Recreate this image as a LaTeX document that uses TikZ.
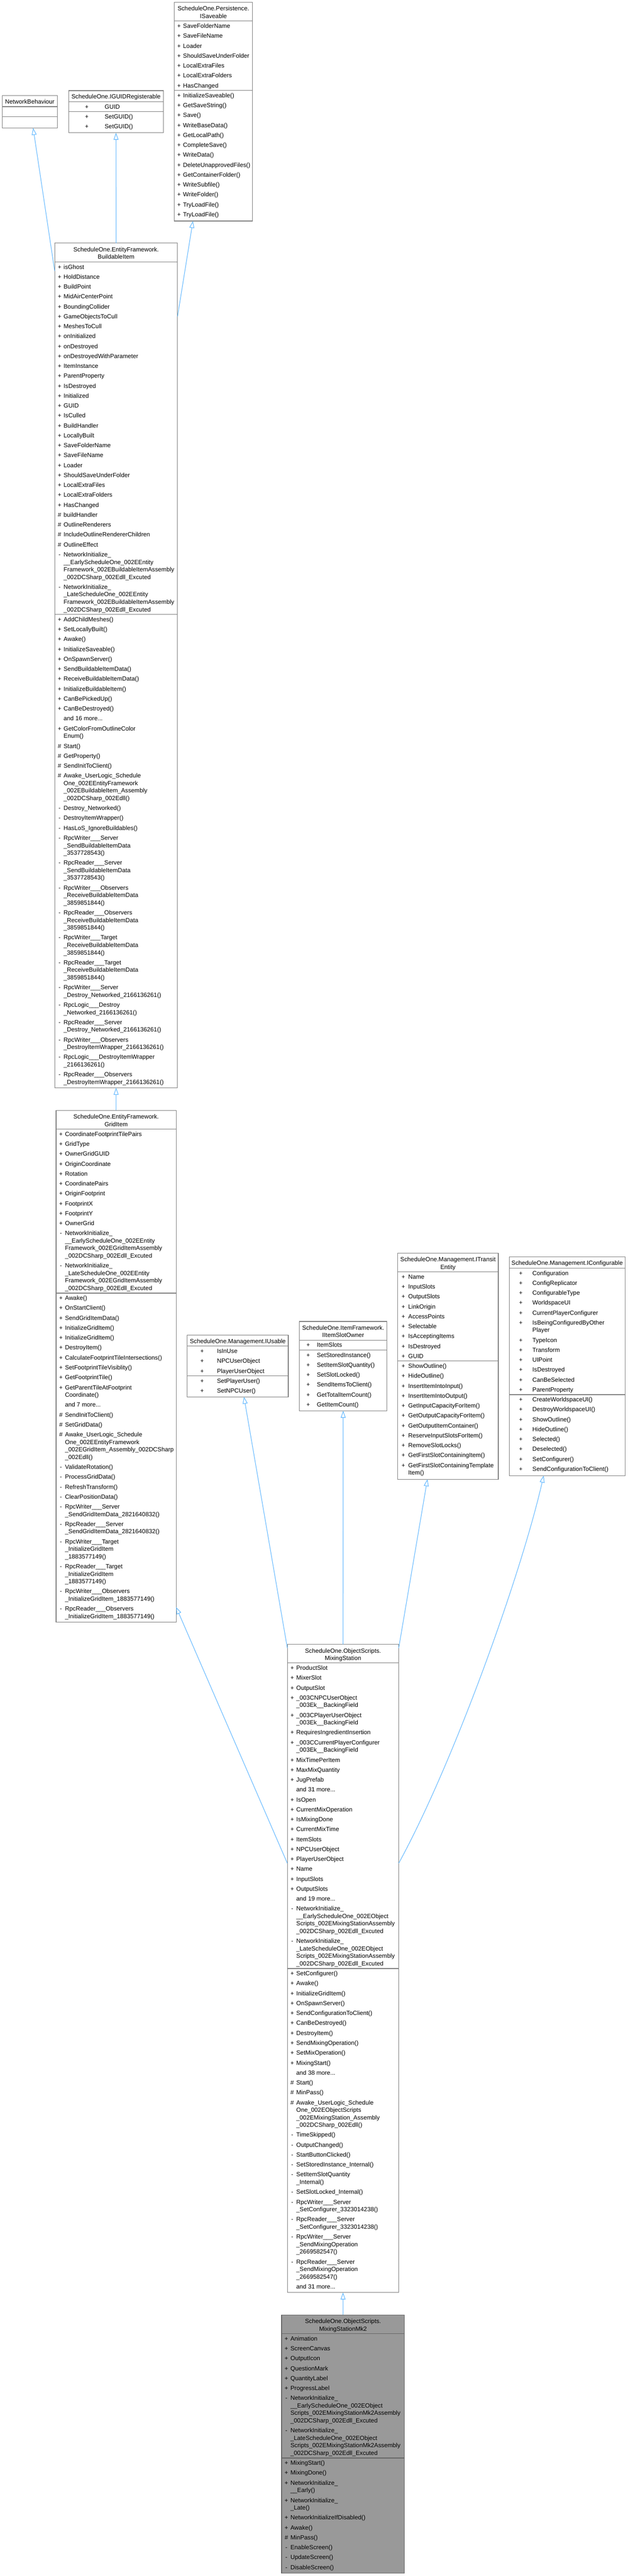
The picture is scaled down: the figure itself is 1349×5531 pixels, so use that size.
\documentclass[tikz,border=0pt]{standalone}
\usepackage{fontspec}
\setmainfont{Liberation Sans}
\usetikzlibrary{arrows.meta}
\definecolor{bordc}{HTML}{7F7F7F}
\definecolor{edgec}{HTML}{63B8FF}
\definecolor{hlfill}{HTML}{999999}
\definecolor{hlbord}{HTML}{666666}
\newlength\mkwidth
\newcommand\mk[1]{\makebox[\mkwidth][l]{\makebox[7.6pt]{#1}}}
\newcommand\items[2]{{\setlength\mkwidth{#1}\begin{tabular}[t]{@{}l@{}l@{}}#2\end{tabular}}}
\newcommand\hd[1]{\begin{tabular}[t]{@{}c@{}}#1\end{tabular}}
\newcommand\nx{\\[5.2pt]}
\newcommand\Pu[1]{\mk{+}&#1\nx}
\newcommand\Pt[1]{\mk{\#}&#1\nx}
\newcommand\Pv[1]{\mk{-}&#1\nx}
\newcommand\Mo[1]{&#1\nx}
\begin{document}
\begin{tikzpicture}[x=1pt,y=-1pt,font=\fontsize{13pt}{16.1pt}\selectfont,
  cbox/.style={draw=bordc,line width=1.3pt,fill=white,inner sep=0pt,outer sep=0pt,anchor=north west},
  hlbox/.style={cbox,draw=hlbord,fill=hlfill},
  sepl/.style={draw=bordc,line width=1.3pt},
  hlsep/.style={draw=hlbord,line width=1.3pt},
  txt/.style={inner sep=0pt,outer sep=0pt},
  inh/.style={draw=edgec,line width=1.2pt,-{Triangle[open,length=15pt,width=10.5pt,line width=1.2pt]}}]
\useasboundingbox (0,0) rectangle (1349,5531);

% ---------- NetworkBehaviour ----------
\node[cbox,minimum width=118pt,minimum height=69.6pt] (nb) at (5,205.2) {};
\draw[sepl] ([yshift=-23.8pt]nb.north west) -- ([yshift=-23.8pt]nb.north east);
\draw[sepl] ([yshift=-45.8pt]nb.north west) -- ([yshift=-45.8pt]nb.north east);
\node[txt,anchor=base] (nb-h) at (64,222.7) {\hd{NetworkBehaviour}};

% ---------- IGUIDRegisterable ----------
\node[cbox,minimum width=203.8pt,minimum height=90.5pt] (guid) at (147.4,194.6) {};
\draw[sepl] ([yshift=-23.7pt]guid.north west) -- ([yshift=-23.7pt]guid.north east);
\draw[sepl] ([yshift=-45pt]guid.north west) -- ([yshift=-45pt]guid.north east);
\node[txt,anchor=base] (guid-h) at (249.3,212.1) {\hd{ScheduleOne.IGUIDRegisterable}};
\node[txt,anchor=base west] (guid-a) at (182.6,233.5) {\items{42.4pt}{\Pu{GUID}}};
\node[txt,anchor=base west] (guid-m) at (182.6,254.8) {\items{42.4pt}{\Pu{SetGUID()}\Pu{SetGUID()}}};

% ---------- ISaveable ----------
\node[cbox,minimum width=168.8pt,minimum height=469.7pt] (sav) at (374.2,4.8) {};
\draw[sepl] ([yshift=-40.3pt]sav.north west) -- ([yshift=-40.3pt]sav.north east);
\draw[sepl] ([yshift=-189.4pt]sav.north west) -- ([yshift=-189.4pt]sav.north east);
\node[txt,anchor=base] (sav-h) at (458.6,22.9) {\hd{ScheduleOne.Persistence.\\ISaveable}};
\node[txt,anchor=base west] (sav-a) at (380.9,60.3) {\items{12.6pt}{%
\Pu{SaveFolderName}\Pu{SaveFileName}\Pu{Loader}\Pu{ShouldSaveUnderFolder}%
\Pu{LocalExtraFiles}\Pu{LocalExtraFolders}\Pu{HasChanged}}};
\node[txt,anchor=base west] (sav-m) at (380.9,209.4) {\items{12.6pt}{%
\Pu{InitializeSaveable()}\Pu{GetSaveString()}\Pu{Save()}\Pu{WriteBaseData()}%
\Pu{GetLocalPath()}\Pu{CompleteSave()}\Pu{WriteData()}\Pu{DeleteUnapprovedFiles()}%
\Pu{GetContainerFolder()}\Pu{WriteSubfile()}\Pu{WriteFolder()}\Pu{TryLoadFile()}\Pu{TryLoadFile()}}};

% ---------- BuildableItem ----------
\node[cbox,minimum width=264pt,minimum height=1813.5pt] (bi) at (117.5,522) {};
\draw[sepl] ([yshift=-40.3pt]bi.north west) -- ([yshift=-40.3pt]bi.north east);
\draw[sepl] ([yshift=-797.3pt]bi.north west) -- ([yshift=-797.3pt]bi.north east);
\node[txt,anchor=base] (bi-h) at (249.5,540.1) {\hd{ScheduleOne.EntityFramework.\\BuildableItem}};
\node[txt,anchor=base west] (bi-a) at (124.2,577.5) {\items{12.6pt}{%
\Pu{isGhost}\Pu{HoldDistance}\Pu{BuildPoint}\Pu{MidAirCenterPoint}\Pu{BoundingCollider}%
\Pu{GameObjectsToCull}\Pu{MeshesToCull}\Pu{onInitialized}\Pu{onDestroyed}%
\Pu{onDestroyedWithParameter}\Pu{ItemInstance}\Pu{ParentProperty}\Pu{IsDestroyed}%
\Pu{Initialized}\Pu{GUID}\Pu{IsCulled}\Pu{BuildHandler}\Pu{LocallyBuilt}%
\Pu{SaveFolderName}\Pu{SaveFileName}\Pu{Loader}\Pu{ShouldSaveUnderFolder}%
\Pu{LocalExtraFiles}\Pu{LocalExtraFolders}\Pu{HasChanged}%
\Pt{buildHandler}\Pt{OutlineRenderers}\Pt{IncludeOutlineRendererChildren}\Pt{OutlineEffect}%
\Pv{NetworkInitialize\_\\&\_\_EarlyScheduleOne\_002EEntity\\&Framework\_002EBuildableItemAssembly\\&\_002DCSharp\_002Edll\_Excuted}%
\Pv{NetworkInitialize\_\\&\_LateScheduleOne\_002EEntity\\&Framework\_002EBuildableItemAssembly\\&\_002DCSharp\_002Edll\_Excuted}}};
\node[txt,anchor=base west] (bi-m) at (124.2,1334.5) {\items{12.6pt}{%
\Pu{AddChildMeshes()}\Pu{SetLocallyBuilt()}\Pu{Awake()}\Pu{InitializeSaveable()}%
\Pu{OnSpawnServer()}\Pu{SendBuildableItemData()}\Pu{ReceiveBuildableItemData()}%
\Pu{InitializeBuildableItem()}\Pu{CanBePickedUp()}\Pu{CanBeDestroyed()}%
\Mo{and 16 more...}%
\Pu{GetColorFromOutlineColor\\&Enum()}%
\Pt{Start()}\Pt{GetProperty()}\Pt{SendInitToClient()}%
\Pt{Awake\_UserLogic\_Schedule\\&One\_002EEntityFramework\\&\_002EBuildableItem\_Assembly\\&\_002DCSharp\_002Edll()}%
\Pv{Destroy\_Networked()}\Pv{DestroyItemWrapper()}\Pv{HasLoS\_IgnoreBuildables()}%
\Pv{RpcWriter\_\_\_Server\\&\_SendBuildableItemData\\&\_3537728543()}%
\Pv{RpcReader\_\_\_Server\\&\_SendBuildableItemData\\&\_3537728543()}%
\Pv{RpcWriter\_\_\_Observers\\&\_ReceiveBuildableItemData\\&\_3859851844()}%
\Pv{RpcReader\_\_\_Observers\\&\_ReceiveBuildableItemData\\&\_3859851844()}%
\Pv{RpcWriter\_\_\_Target\\&\_ReceiveBuildableItemData\\&\_3859851844()}%
\Pv{RpcReader\_\_\_Target\\&\_ReceiveBuildableItemData\\&\_3859851844()}%
\Pv{RpcWriter\_\_\_Server\\&\_Destroy\_Networked\_2166136261()}%
\Pv{RpcLogic\_\_\_Destroy\\&\_Networked\_2166136261()}%
\Pv{RpcReader\_\_\_Server\\&\_Destroy\_Networked\_2166136261()}%
\Pv{RpcWriter\_\_\_Observers\\&\_DestroyItemWrapper\_2166136261()}%
\Pv{RpcLogic\_\_\_DestroyItemWrapper\\&\_2166136261()}%
\Pv{RpcReader\_\_\_Observers\\&\_DestroyItemWrapper\_2166136261()}}};

% ---------- GridItem ----------
\node[cbox,minimum width=258pt,minimum height=1099pt] (gi) at (120.5,2384) {};
\draw[sepl] ([yshift=-40.3pt]gi.north west) -- ([yshift=-40.3pt]gi.north east);
\draw[sepl] ([yshift=-392.5pt]gi.north west) -- ([yshift=-392.5pt]gi.north east);
\node[txt,anchor=base] (gi-h) at (249.5,2402.1) {\hd{ScheduleOne.EntityFramework.\\GridItem}};
\node[txt,anchor=base west] (gi-a) at (127.2,2439.5) {\items{12.6pt}{%
\Pu{CoordinateFootprintTilePairs}\Pu{GridType}\Pu{OwnerGridGUID}\Pu{OriginCoordinate}%
\Pu{Rotation}\Pu{CoordinatePairs}\Pu{OriginFootprint}\Pu{FootprintX}\Pu{FootprintY}\Pu{OwnerGrid}%
\Pv{NetworkInitialize\_\\&\_\_EarlyScheduleOne\_002EEntity\\&Framework\_002EGridItemAssembly\\&\_002DCSharp\_002Edll\_Excuted}%
\Pv{NetworkInitialize\_\\&\_LateScheduleOne\_002EEntity\\&Framework\_002EGridItemAssembly\\&\_002DCSharp\_002Edll\_Excuted}}};
\node[txt,anchor=base west] (gi-m) at (127.2,2791.7) {\items{12.6pt}{%
\Pu{Awake()}\Pu{OnStartClient()}\Pu{SendGridItemData()}\Pu{InitializeGridItem()}%
\Pu{InitializeGridItem()}\Pu{DestroyItem()}\Pu{CalculateFootprintTileIntersections()}%
\Pu{SetFootprintTileVisiblity()}\Pu{GetFootprintTile()}%
\Pu{GetParentTileAtFootprint\\&Coordinate()}%
\Mo{and 7 more...}%
\Pt{SendInitToClient()}\Pt{SetGridData()}%
\Pt{Awake\_UserLogic\_Schedule\\&One\_002EEntityFramework\\&\_002EGridItem\_Assembly\_002DCSharp\\&\_002Edll()}%
\Pv{ValidateRotation()}\Pv{ProcessGridData()}\Pv{RefreshTransform()}\Pv{ClearPositionData()}%
\Pv{RpcWriter\_\_\_Server\\&\_SendGridItemData\_2821640832()}%
\Pv{RpcReader\_\_\_Server\\&\_SendGridItemData\_2821640832()}%
\Pv{RpcWriter\_\_\_Target\\&\_InitializeGridItem\\&\_1883577149()}%
\Pv{RpcReader\_\_\_Target\\&\_InitializeGridItem\\&\_1883577149()}%
\Pv{RpcWriter\_\_\_Observers\\&\_InitializeGridItem\_1883577149()}%
\Pv{RpcReader\_\_\_Observers\\&\_InitializeGridItem\_1883577149()}}};

% ---------- IUsable ----------
\node[cbox,minimum width=216.9pt,minimum height=132.3pt] (us) at (402.5,2866.7) {};
\draw[sepl] ([yshift=-23.6pt]us.north west) -- ([yshift=-23.6pt]us.north east);
\draw[sepl] ([yshift=-87.5pt]us.north west) -- ([yshift=-87.5pt]us.north east);
\node[txt,anchor=base] (us-h) at (511,2884.2) {\hd{ScheduleOne.Management.IUsable}};
\node[txt,anchor=base west] (us-a) at (430.5,2905.5) {\items{35.8pt}{\Pu{IsInUse}\Pu{NPCUserObject}\Pu{PlayerUserObject}}};
\node[txt,anchor=base west] (us-m) at (430.5,2969.4) {\items{35.8pt}{\Pu{SetPlayerUser()}\Pu{SetNPCUser()}}};

% ---------- IItemSlotOwner ----------
\node[cbox,minimum width=187.6pt,minimum height=191.7pt] (iso) at (643.7,2837.3) {};
\draw[sepl] ([yshift=-40pt]iso.north west) -- ([yshift=-40pt]iso.north east);
\draw[sepl] ([yshift=-61.3pt]iso.north west) -- ([yshift=-61.3pt]iso.north east);
\node[txt,anchor=base] (iso-h) at (737.5,2855.4) {\hd{ScheduleOne.ItemFramework.\\IItemSlotOwner}};
\node[txt,anchor=base west] (iso-a) at (658.5,2892.5) {\items{22.5pt}{\Pu{ItemSlots}}};
\node[txt,anchor=base west] (iso-m) at (658.5,2913.8) {\items{22.5pt}{%
\Pu{SetStoredInstance()}\Pu{SetItemSlotQuantity()}\Pu{SetSlotLocked()}%
\Pu{SendItemsToClient()}\Pu{GetTotalItemCount()}\Pu{GetItemCount()}}};

% ---------- ITransitEntity ----------
\node[cbox,minimum width=216pt,minimum height=485.3pt] (ite) at (854.7,2690.7) {};
\draw[sepl] ([yshift=-40pt]ite.north west) -- ([yshift=-40pt]ite.north east);
\draw[sepl] ([yshift=-231.7pt]ite.north west) -- ([yshift=-231.7pt]ite.north east);
\node[txt,anchor=base] (ite-h) at (962.7,2708.8) {\hd{ScheduleOne.Management.ITransit\\Entity}};
\node[txt,anchor=base west] (ite-a) at (862.9,2745.9) {\items{14.5pt}{%
\Pu{Name}\Pu{InputSlots}\Pu{OutputSlots}\Pu{LinkOrigin}\Pu{AccessPoints}%
\Pu{Selectable}\Pu{IsAcceptingItems}\Pu{IsDestroyed}\Pu{GUID}}};
\node[txt,anchor=base west] (ite-m) at (862.9,2937.6) {\items{14.5pt}{%
\Pu{ShowOutline()}\Pu{HideOutline()}\Pu{InsertItemIntoInput()}\Pu{InsertItemIntoOutput()}%
\Pu{GetInputCapacityForItem()}\Pu{GetOutputCapacityForItem()}\Pu{GetOutputItemContainer()}%
\Pu{ReserveInputSlotsForItem()}\Pu{RemoveSlotLocks()}\Pu{GetFirstSlotContainingItem()}%
\Pu{GetFirstSlotContainingTemplate\\&Item()}}};

% ---------- IConfigurable ----------
\node[cbox,minimum width=249pt,minimum height=469.6pt] (cfg) at (1094.3,2698.7) {};
\draw[sepl] ([yshift=-24pt]cfg.north west) -- ([yshift=-24pt]cfg.north east);
\draw[sepl] ([yshift=-295.7pt]cfg.north west) -- ([yshift=-295.7pt]cfg.north east);
\node[txt,anchor=base] (cfg-h) at (1218.8,2716.2) {\hd{ScheduleOne.Management.IConfigurable}};
\node[txt,anchor=base west] (cfg-a) at (1115.5,2737.9) {\items{28.8pt}{%
\Pu{Configuration}\Pu{ConfigReplicator}\Pu{ConfigurableType}\Pu{WorldspaceUI}%
\Pu{CurrentPlayerConfigurer}\Pu{IsBeingConfiguredByOther\\&Player}\Pu{TypeIcon}%
\Pu{Transform}\Pu{UIPoint}\Pu{IsDestroyed}\Pu{CanBeSelected}\Pu{ParentProperty}}};
\node[txt,anchor=base west] (cfg-m) at (1115.5,3009.6) {\items{28.8pt}{%
\Pu{CreateWorldspaceUI()}\Pu{DestroyWorldspaceUI()}\Pu{ShowOutline()}\Pu{HideOutline()}%
\Pu{Selected()}\Pu{Deselected()}\Pu{SetConfigurer()}\Pu{SendConfigurationToClient()}}};

% ---------- MixingStation ----------
\node[cbox,minimum width=239.3pt,minimum height=1391.6pt] (ms) at (617.5,3530.6) {};
\draw[sepl] ([yshift=-40pt]ms.north west) -- ([yshift=-40pt]ms.north east);
\draw[sepl] ([yshift=-696.1pt]ms.north west) -- ([yshift=-696.1pt]ms.north east);
\node[txt,anchor=base] (ms-h) at (737.15,3548.7) {\hd{ScheduleOne.ObjectScripts.\\MixingStation}};
\node[txt,anchor=base west] (ms-a) at (624.2,3585.8) {\items{12.6pt}{%
\Pu{ProductSlot}\Pu{MixerSlot}\Pu{OutputSlot}%
\Pu{\_003CNPCUserObject\\&\_003Ek\_\_BackingField}%
\Pu{\_003CPlayerUserObject\\&\_003Ek\_\_BackingField}%
\Pu{RequiresIngredientInsertion}%
\Pu{\_003CCurrentPlayerConfigurer\\&\_003Ek\_\_BackingField}%
\Pu{MixTimePerItem}\Pu{MaxMixQuantity}\Pu{JugPrefab}%
\Mo{and 31 more...}%
\Pu{IsOpen}\Pu{CurrentMixOperation}\Pu{IsMixingDone}\Pu{CurrentMixTime}\Pu{ItemSlots}%
\Pu{NPCUserObject}\Pu{PlayerUserObject}\Pu{Name}\Pu{InputSlots}\Pu{OutputSlots}%
\Mo{and 19 more...}%
\Pv{NetworkInitialize\_\\&\_\_EarlyScheduleOne\_002EObject\\&Scripts\_002EMixingStationAssembly\\&\_002DCSharp\_002Edll\_Excuted}%
\Pv{NetworkInitialize\_\\&\_LateScheduleOne\_002EObject\\&Scripts\_002EMixingStationAssembly\\&\_002DCSharp\_002Edll\_Excuted}}};
\node[txt,anchor=base west] (ms-m) at (624.2,4241.9) {\items{12.6pt}{%
\Pu{SetConfigurer()}\Pu{Awake()}\Pu{InitializeGridItem()}\Pu{OnSpawnServer()}%
\Pu{SendConfigurationToClient()}\Pu{CanBeDestroyed()}\Pu{DestroyItem()}%
\Pu{SendMixingOperation()}\Pu{SetMixOperation()}\Pu{MixingStart()}%
\Mo{and 38 more...}%
\Pt{Start()}\Pt{MinPass()}%
\Pt{Awake\_UserLogic\_Schedule\\&One\_002EObjectScripts\\&\_002EMixingStation\_Assembly\\&\_002DCSharp\_002Edll()}%
\Pv{TimeSkipped()}\Pv{OutputChanged()}\Pv{StartButtonClicked()}\Pv{SetStoredInstance\_Internal()}%
\Pv{SetItemSlotQuantity\\&\_Internal()}\Pv{SetSlotLocked\_Internal()}%
\Pv{RpcWriter\_\_\_Server\\&\_SetConfigurer\_3323014238()}%
\Pv{RpcReader\_\_\_Server\\&\_SetConfigurer\_3323014238()}%
\Pv{RpcWriter\_\_\_Server\\&\_SendMixingOperation\\&\_2669582547()}%
\Pv{RpcReader\_\_\_Server\\&\_SendMixingOperation\\&\_2669582547()}%
\Mo{and 31 more...}}};

% ---------- MixingStationMk2 ----------
\node[hlbox,minimum width=264.3pt,minimum height=554.4pt] (mk2) at (605,4970.6) {};
\draw[hlsep] ([yshift=-40pt]mk2.north west) -- ([yshift=-40pt]mk2.north east);
\draw[hlsep] ([yshift=-307pt]mk2.north west) -- ([yshift=-307pt]mk2.north east);
\node[txt,anchor=base] (mk2-h) at (737.15,4988.7) {\hd{ScheduleOne.ObjectScripts.\\MixingStationMk2}};
\node[txt,anchor=base west] (mk2-a) at (611.7,5025.8) {\items{12.6pt}{%
\Pu{Animation}\Pu{ScreenCanvas}\Pu{OutputIcon}\Pu{QuestionMark}\Pu{QuantityLabel}\Pu{ProgressLabel}%
\Pv{NetworkInitialize\_\\&\_\_EarlyScheduleOne\_002EObject\\&Scripts\_002EMixingStationMk2Assembly\\&\_002DCSharp\_002Edll\_Excuted}%
\Pv{NetworkInitialize\_\\&\_LateScheduleOne\_002EObject\\&Scripts\_002EMixingStationMk2Assembly\\&\_002DCSharp\_002Edll\_Excuted}}};
\node[txt,anchor=base west] (mk2-m) at (611.7,5292.8) {\items{12.6pt}{%
\Pu{MixingStart()}\Pu{MixingDone()}\Pu{NetworkInitialize\_\\&\_\_Early()}%
\Pu{NetworkInitialize\_\\&\_Late()}\Pu{NetworkInitializeIfDisabled()}\Pu{Awake()}%
\Pt{MinPass()}\Pv{EnableScreen()}\Pv{UpdateScreen()}\Pv{DisableScreen()}}};

% ---------- inheritance connectors ----------
\draw[inh] ([yshift=-60pt]bi.north west) -- ([xshift=7.2pt]nb.south);
\draw[inh] (bi.north) -- (guid.south);
\draw[inh] ([yshift=-157.6pt]bi.north east) -- ([xshift=-44pt]sav.south);
\draw[inh] (gi.north) -- (bi.south);
\draw[inh] ([yshift=-470pt]ms.north west) -- ([yshift=32.4pt]gi.south east);
\draw[inh] ([yshift=-8pt]ms.north west) -- ([xshift=13.3pt]us.south);
\draw[inh] (ms.north) -- (iso.south);
\draw[inh] ([yshift=-8pt]ms.north east) -- ([xshift=-44.2pt]ite.south);
\draw[inh] ([yshift=-470pt]ms.north east) .. controls (975,3785) and (1120,3380) .. ([xshift=-50.5pt]cfg.south);
\draw[inh] (mk2.north) -- (ms.south);
\end{tikzpicture}
\end{document}
